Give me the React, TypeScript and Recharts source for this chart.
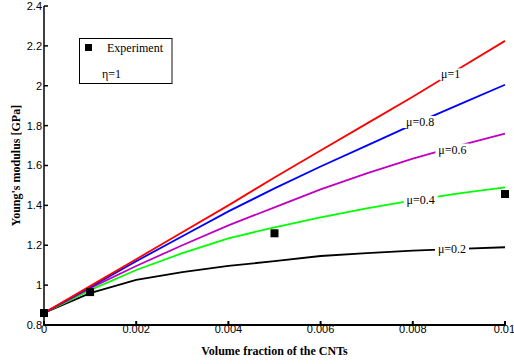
import {
  ComposedChart,
  Line,
  Scatter,
  XAxis,
  YAxis,
  ReferenceDot,
} from 'recharts';

const SERIF = '"Liberation Serif", "Times New Roman", serif';
const SANS = '"Liberation Sans", Arial, sans-serif';

// volume fraction of CNTs
const fractions = [0, 0.001, 0.002, 0.003, 0.004, 0.005, 0.006, 0.007, 0.008, 0.009, 0.01];

// Young's modulus [GPa] for each mu
const mu1 = [0.86, 0.995, 1.13, 1.265, 1.4, 1.54, 1.675, 1.81, 1.945, 2.085, 2.225];
const mu08 = [0.86, 0.99, 1.12, 1.245, 1.37, 1.485, 1.595, 1.7, 1.805, 1.905, 2.005];
const mu06 = [0.86, 0.985, 1.096, 1.2, 1.3, 1.39, 1.48, 1.56, 1.635, 1.7, 1.76];
const mu04 = [0.86, 0.975, 1.076, 1.16, 1.235, 1.29, 1.34, 1.385, 1.425, 1.46, 1.49];
const mu02 = [0.86, 0.96, 1.026, 1.065, 1.097, 1.12, 1.146, 1.16, 1.173, 1.182, 1.19];

const expX = [0, 0.001, 0.005, 0.01];
const expY = [0.86, 0.965, 1.26, 1.457];

const xTicks = [0, 0.002, 0.004, 0.006, 0.008, 0.01];
const yTicks = [0.8, 1, 1.2, 1.4, 1.6, 1.8, 2, 2.2, 2.4];

// curve labels (text, position along the curve)
const labelText = ['μ=1', 'μ=0.8', 'μ=0.6', 'μ=0.4', 'μ=0.2'];
const labelX = [0.00882, 0.00816, 0.00886, 0.00817, 0.00885];
const labelY = [2.057, 1.818, 1.68, 1.425, 1.181];

const data = fractions.map((x, i) => ({
  x,
  mu1: mu1[i],
  mu08: mu08[i],
  mu06: mu06[i],
  mu04: mu04[i],
  mu02: mu02[i],
}));

const expData = expX.map((x, i) => ({ x, y: expY[i] }));

const Square = (props: any) => {
  const { cx, cy } = props;
  if (cx == null || cy == null) return null;
  return <rect x={cx - 4} y={cy - 4} width={8} height={8} fill="#000" />;
};

const CurveLabel = (text: string) => (props: any) => {
  const { cx, cy } = props;
  const w = text.length * 6 + 4;
  return (
    <g>
      <rect x={cx - w / 2} y={cy - 6} width={w} height={12} fill="#fff" />
      <text x={cx} y={cy + 4} textAnchor="middle" fontFamily={SERIF} fontSize={12} fill="#000">
        {text}
      </text>
    </g>
  );
};

const fmtX = (v: number) => (v === 0 ? '0' : String(v));
const fmtY = (v: number) => String(v);
const blank = () => '';

export default function App() {
  return (
    <div style={{ position: 'relative', width: 514, height: 364, background: '#fff' }}>
      <style>{'body{margin:0}'}</style>
      <ComposedChart width={514} height={364} data={data} margin={{ top: 6, right: 9, left: 4, bottom: 0 }}>
        <XAxis
          xAxisId="bottom"
          dataKey="x"
          type="number"
          domain={[0, 0.01]}
          ticks={xTicks}
          tickFormatter={fmtX}
          height={39}
          tickSize={-4}
          tickMargin={4}
          stroke="#000"
          strokeWidth={2}
          tick={{ fill: '#000', fontSize: 11, fontFamily: SANS }}
          label={{
            value: 'Volume fraction of the CNTs',
            position: 'insideBottom',
            offset: 9,
            fill: '#000',
            fontFamily: SERIF,
            fontSize: 12,
            fontWeight: 'bold',
          }}
        />
        <XAxis
          xAxisId="top"
          dataKey="x"
          type="number"
          orientation="top"
          domain={[0, 0.01]}
          ticks={xTicks}
          tickFormatter={blank}
          height={0}
          tickSize={-4}
          stroke="#000"
          strokeWidth={1.5}
        />
        <YAxis
          yAxisId="left"
          type="number"
          domain={[0.8, 2.4]}
          ticks={yTicks}
          tickFormatter={fmtY}
          width={40}
          tickSize={-4}
          tickMargin={6}
          stroke="#000"
          strokeWidth={1.5}
          tick={{ fill: '#000', fontSize: 11, fontFamily: SANS }}
          label={{
            value: "Young's modulus [GPa]",
            angle: -90,
            position: 'insideLeft',
            offset: 12,
            style: { textAnchor: 'middle' },
            fill: '#000',
            fontFamily: SERIF,
            fontSize: 12,
            fontWeight: 'bold',
          }}
        />
        <YAxis
          yAxisId="right"
          type="number"
          orientation="right"
          domain={[0.8, 2.4]}
          ticks={yTicks}
          tickFormatter={blank}
          width={0}
          tickSize={-4}
          stroke="#000"
          strokeWidth={2}
        />
        <Scatter
          xAxisId="bottom"
          yAxisId="left"
          data={expData}
          dataKey="y"
          shape={Square}
          isAnimationActive={false}
        />
        <Line xAxisId="bottom" yAxisId="left" type="linear" dataKey="mu02" stroke="#000000" strokeWidth={1.8} dot={false} isAnimationActive={false} />
        <Line xAxisId="bottom" yAxisId="left" type="linear" dataKey="mu04" stroke="#00ff00" strokeWidth={1.8} dot={false} isAnimationActive={false} />
        <Line xAxisId="bottom" yAxisId="left" type="linear" dataKey="mu06" stroke="#c000c0" strokeWidth={1.8} dot={false} isAnimationActive={false} />
        <Line xAxisId="bottom" yAxisId="left" type="linear" dataKey="mu08" stroke="#0000ff" strokeWidth={1.8} dot={false} isAnimationActive={false} />
        <Line xAxisId="bottom" yAxisId="left" type="linear" dataKey="mu1" stroke="#ff0000" strokeWidth={1.8} dot={false} isAnimationActive={false} />
        {labelText.map((t, i) => (
          <ReferenceDot
            key={t}
            xAxisId="bottom"
            yAxisId="left"
            x={labelX[i]}
            y={labelY[i]}
            r={0}
            ifOverflow="visible"
            shape={CurveLabel(t)}
          />
        ))}
      </ComposedChart>
      <div
        style={{
          position: 'absolute',
          left: 79,
          top: 38,
          width: 91,
          height: 44,
          border: '1px solid #000',
          borderRight: '2px solid #888',
          fontFamily: SERIF,
          fontSize: 12,
          color: '#000',
          background: '#fff',
        }}
      >
        <div style={{ position: 'absolute', left: 5, top: 5, width: 7, height: 7, background: '#000' }} />
        <div style={{ position: 'absolute', left: 27, top: 2, lineHeight: '14px' }}>Experiment</div>
        <div style={{ position: 'absolute', left: 22, top: 28, lineHeight: '14px' }}>η=1</div>
      </div>
    </div>
  );
}
